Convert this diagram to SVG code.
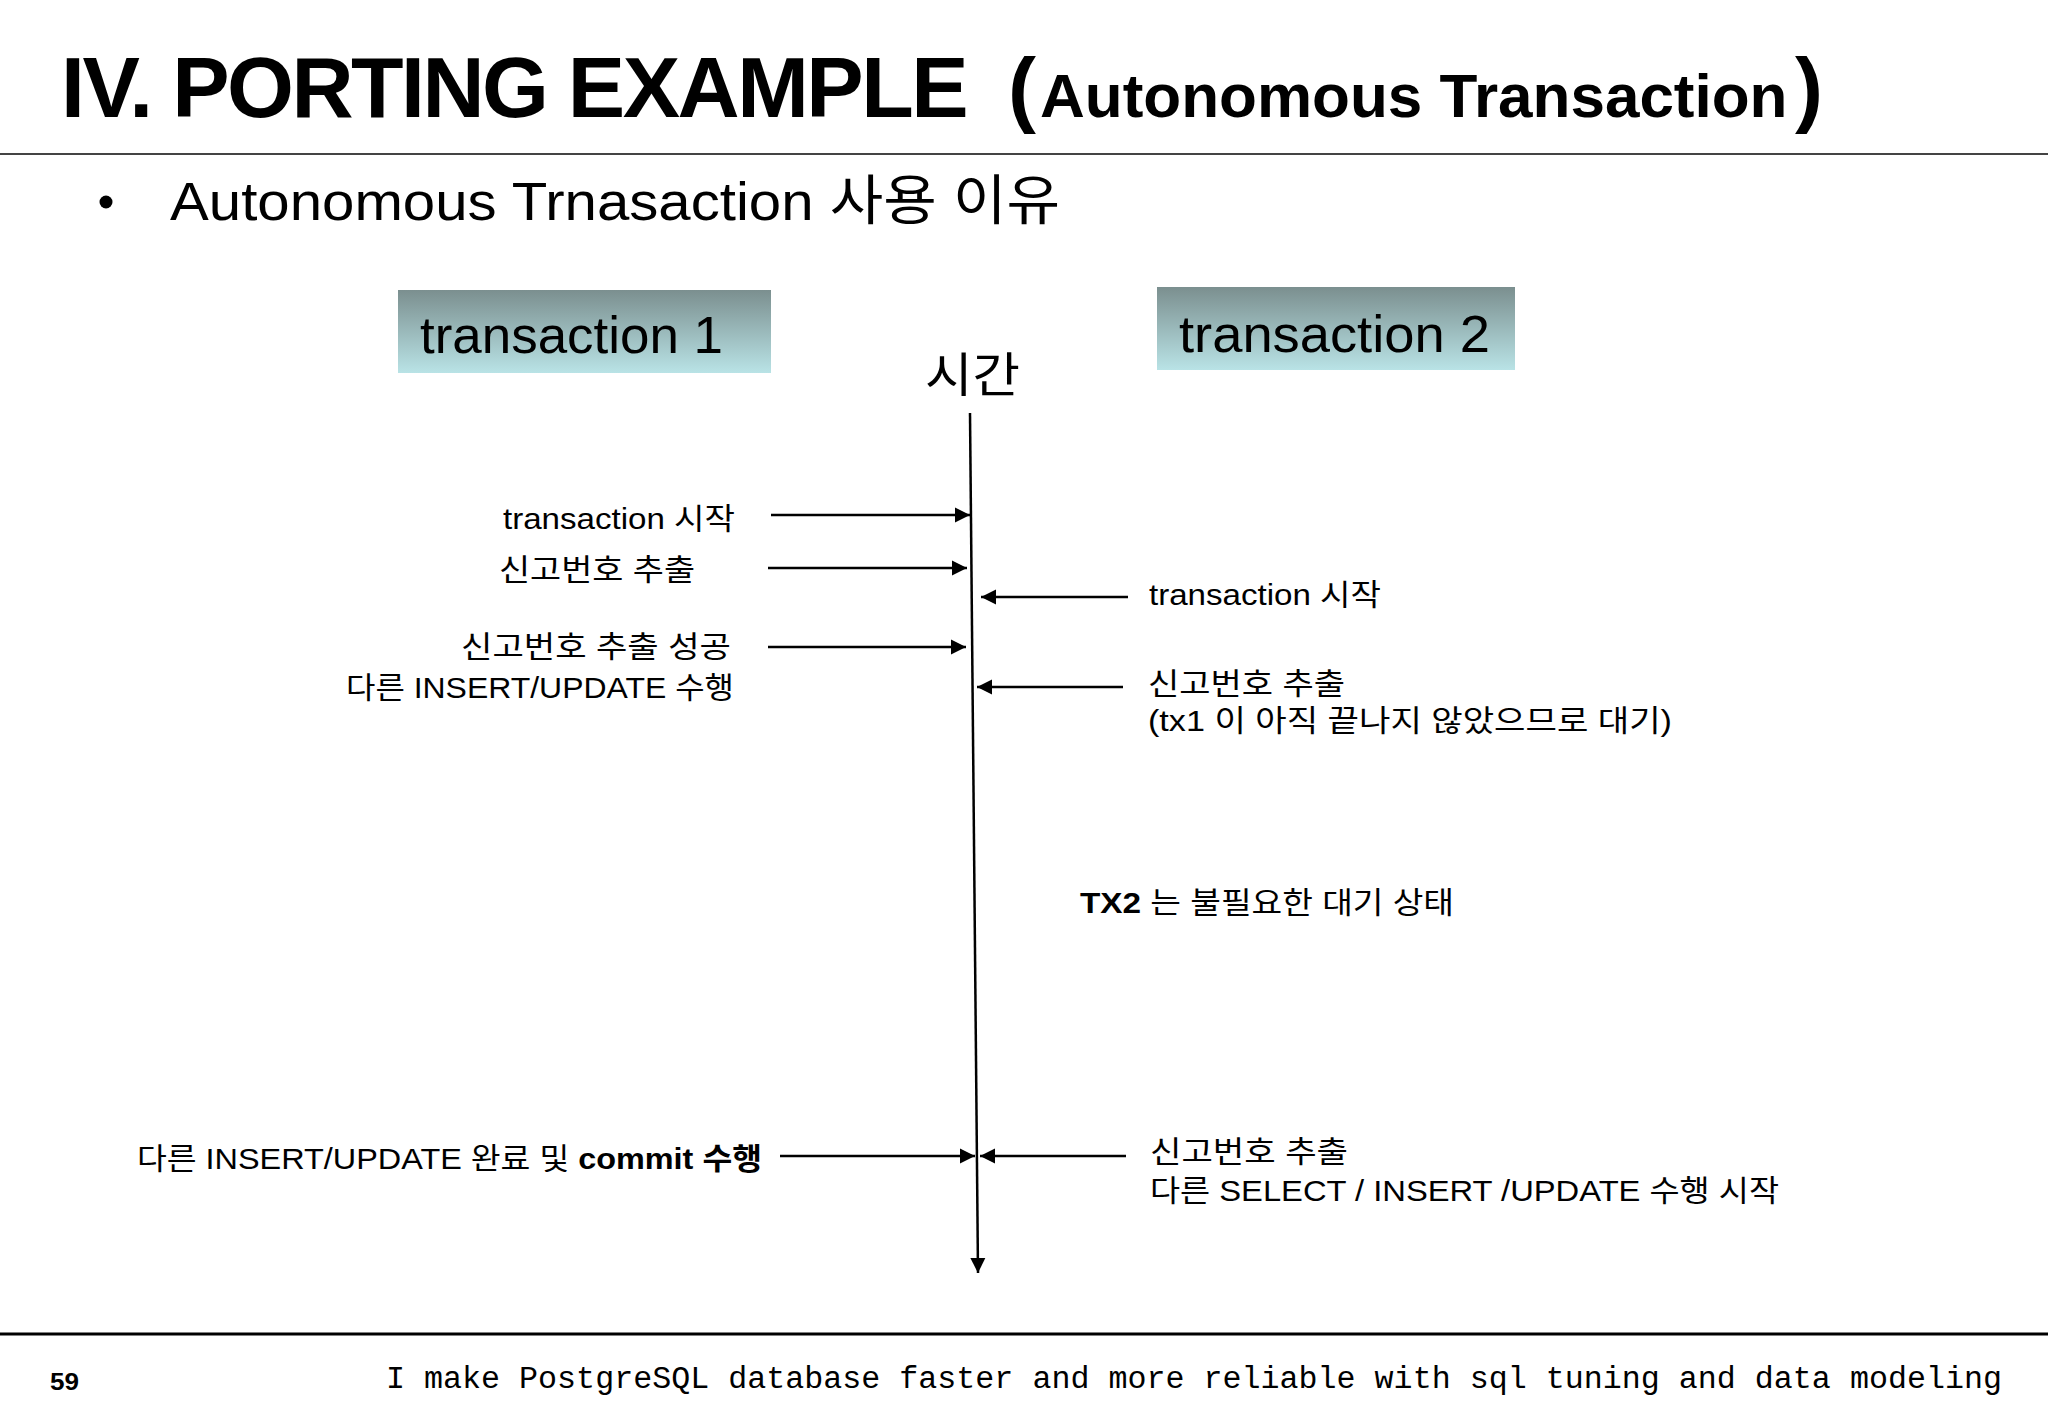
<svg xmlns="http://www.w3.org/2000/svg" width="2048" height="1418" viewBox="0 0 2048 1418">
<defs>
<linearGradient id="boxGrad" x1="0" y1="0" x2="0" y2="1">
<stop offset="0" stop-color="#7b8f8f"/>
<stop offset="1" stop-color="#b9e3e6"/>
</linearGradient>
<marker id="arr" markerUnits="userSpaceOnUse" markerWidth="16" markerHeight="16" refX="15" refY="8" orient="auto">
<path d="M0,0.5 L15,8 L0,15.5 z" fill="#000"/>
</marker>
<style>
.lbl{font-family:"Liberation Sans","Noto Sans CJK KR",sans-serif;font-size:30px;fill:#000}
.box{font-family:"Liberation Sans","Noto Sans CJK KR",sans-serif;font-size:52px;fill:#000}
.ln{stroke:#000;stroke-width:2.5;fill:none;marker-end:url(#arr)}
</style>
</defs>
<rect width="2048" height="1418" fill="#fff"/>

<g id="title">
<text y="117" font-family="Liberation Sans, sans-serif" font-weight="bold"><tspan x="61" font-size="86" letter-spacing="-2.5">IV. PORTING EXAMPLE</tspan><tspan x="1008" font-size="84">(</tspan><tspan x="1040" font-size="62">Autonomous Transaction</tspan><tspan x="1795" font-size="84">)</tspan></text>
</g>
<line x1="0" y1="154" x2="2048" y2="154" stroke="#444" stroke-width="2"/>

<g id="bullet">
<circle cx="106" cy="202" r="6.5" fill="#000"/>
<text x="170" y="220" font-family="Liberation Sans, Noto Sans CJK KR, sans-serif" font-size="54" textLength="890" lengthAdjust="spacingAndGlyphs">Autonomous Trnasaction 사용 이유</text>
</g>

<g id="tx1">
<rect x="398" y="290" width="373" height="83" fill="url(#boxGrad)"/>
<text class="box" x="420" y="353" textLength="303" lengthAdjust="spacingAndGlyphs">transaction 1</text>
</g>
<g id="tx2">
<rect x="1157" y="287" width="358" height="83" fill="url(#boxGrad)"/>
<text class="box" x="1179" y="352" textLength="311" lengthAdjust="spacingAndGlyphs">transaction 2</text>
</g>
<g id="time">
<text x="925" y="392" font-family="Noto Sans CJK KR, sans-serif" font-size="48" textLength="95" lengthAdjust="spacingAndGlyphs">시간</text>
</g>

<g id="connectors">
<line class="ln" x1="970" y1="413" x2="978" y2="1273"/>
<line class="ln" x1="771" y1="515" x2="970" y2="515"/>
<line class="ln" x1="768" y1="568" x2="967" y2="568"/>
<line class="ln" x1="768" y1="647" x2="966" y2="647"/>
<line class="ln" x1="1128" y1="597" x2="981" y2="597"/>
<line class="ln" x1="1123" y1="687" x2="977" y2="687"/>
<line class="ln" x1="780" y1="1156" x2="975" y2="1156"/>
<line class="ln" x1="1126" y1="1156" x2="980" y2="1156"/>
</g>

<g id="left-labels">
<text class="lbl" x="503" y="529" textLength="232" lengthAdjust="spacingAndGlyphs">transaction 시작</text>
<text class="lbl" x="499" y="580" textLength="196" lengthAdjust="spacingAndGlyphs">신고번호 추출</text>
<text class="lbl" x="461" y="657" textLength="270" lengthAdjust="spacingAndGlyphs">신고번호 추출 성공</text>
<text class="lbl" x="346" y="698" textLength="388" lengthAdjust="spacingAndGlyphs">다른 INSERT/UPDATE 수행</text>
<text class="lbl" x="137" y="1169" textLength="625" lengthAdjust="spacingAndGlyphs">다른 INSERT/UPDATE 완료 및 <tspan font-weight="bold">commit 수행</tspan></text>
</g>

<g id="right-labels">
<text class="lbl" x="1149" y="605" textLength="232" lengthAdjust="spacingAndGlyphs">transaction 시작</text>
<text class="lbl" x="1148" y="694" textLength="197" lengthAdjust="spacingAndGlyphs">신고번호 추출</text>
<text class="lbl" x="1148" y="731" textLength="524" lengthAdjust="spacingAndGlyphs">(tx1 이 아직 끝나지 않았으므로 대기)</text>
<text class="lbl" x="1080" y="913" textLength="374" lengthAdjust="spacingAndGlyphs"><tspan font-weight="bold">TX2</tspan> 는 불필요한 대기 상태</text>
<text class="lbl" x="1150" y="1162" textLength="198" lengthAdjust="spacingAndGlyphs">신고번호 추출</text>
<text class="lbl" x="1150" y="1201" textLength="629" lengthAdjust="spacingAndGlyphs">다른 SELECT / INSERT /UPDATE 수행 시작</text>
</g>

<g id="footer">
<line x1="0" y1="1334" x2="2048" y2="1334" stroke="#000" stroke-width="3"/>
<text x="50" y="1390" font-family="Liberation Sans, sans-serif" font-weight="bold" font-size="24" textLength="29" lengthAdjust="spacingAndGlyphs">59</text>
<text x="386" y="1388" font-family="Liberation Mono, monospace" font-size="31" textLength="1616" lengthAdjust="spacingAndGlyphs">I make PostgreSQL database faster and more reliable with sql tuning and data modeling</text>
</g>
</svg>
